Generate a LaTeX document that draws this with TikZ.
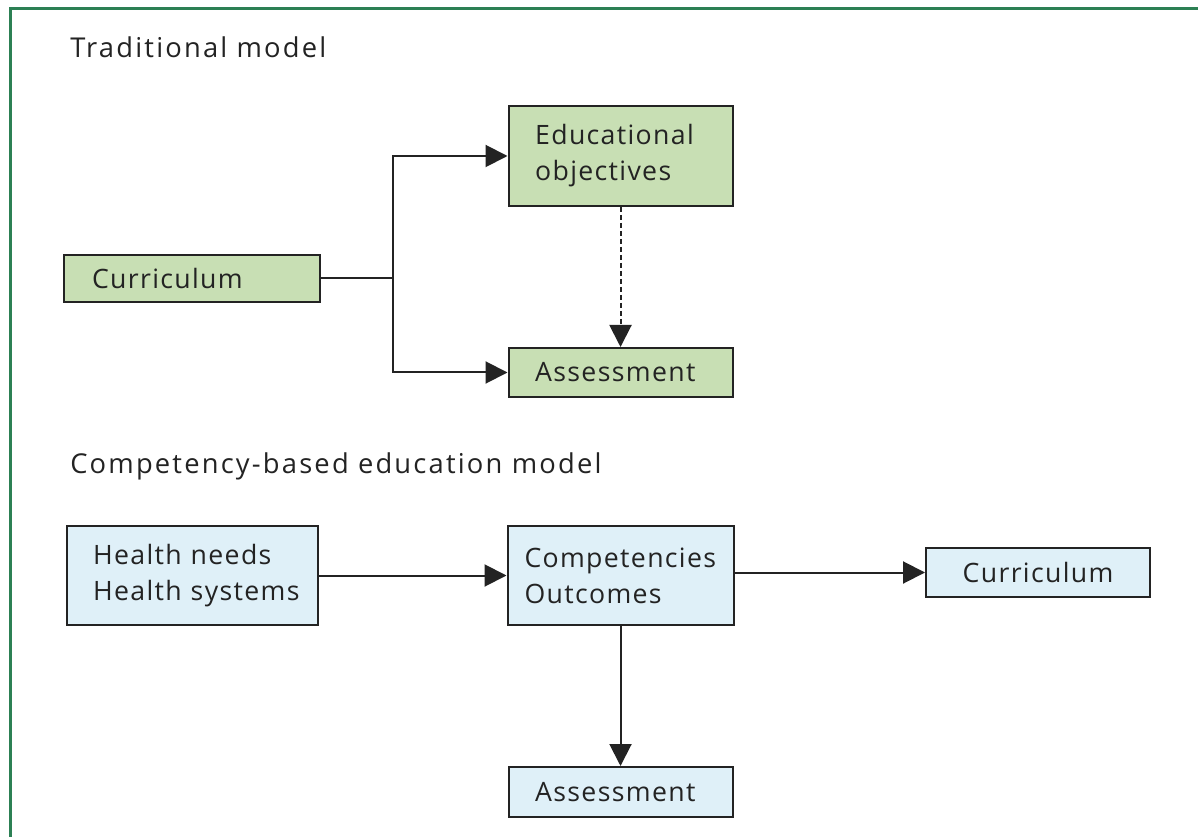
\documentclass[tikz,border=0pt]{standalone}
\usepackage{fontspec}
\setmainfont{Open Sans}
\usetikzlibrary{arrows.meta}
\definecolor{framegreen}{RGB}{44,128,84}
\definecolor{boxgreen}{RGB}{200,223,180}
\definecolor{boxblue}{RGB}{223,240,248}
\definecolor{ink}{RGB}{35,35,35}
\newfontfamily\boxfont[LetterSpace=5]{Open Sans}
\newfontfamily\titlefont[LetterSpace=8]{Open Sans}
\hbadness=10000 \hfuzz=200pt
\tikzset{
  box/.style={draw=ink, line width=1.5pt, minimum height=#1, inner ysep=0pt, align=left, text=ink, font=\boxfont\fontsize{20}{27}\selectfont},
  gbox/.style={box=#1, fill=boxgreen},
  bbox/.style={box=#1, fill=boxblue},
  conn/.style={draw=ink, line width=1.5pt, -{Triangle[length=16.5pt,width=16.5pt]}},
  plain/.style={draw=ink, line width=1.5pt},
  title/.style={anchor=west, text=ink, inner sep=0pt, font=\titlefont\fontsize{20.5}{24}\selectfont}
}
\begin{document}
\begin{tikzpicture}[x=0.75pt,y=-0.75pt]
\useasboundingbox (0,0) rectangle (1198,837);
\fill[white] (0,0) rectangle (1198,837);
\draw[framegreen, line width=1.8pt] (10.5,837) |- (1198,8.5);

\node[title] (t1) at (70,47) {Traditional model};
\node[title] (t2) at (70,466) {Competency-based education model};

% traditional model
\node[gbox=75pt, text width=128pt, inner xsep=20pt] (edu) at (620.5,156) {\mbox{Educational}\\\mbox{objectives}};
\node[gbox=35.25pt, text width=150pt, inner xsep=21pt] (cur) at (192,278.5) {\mbox{Curriculum}};
\node[gbox=36.75pt, text width=128pt, inner xsep=20pt] (asm) at (620.5,372.5) {\mbox{Assessment}};
\coordinate (j) at (393,278.5);
\draw[plain] (cur.east) -- (j);
\draw[conn] (j) |- (edu.west);
\draw[conn] (j) |- (asm.west);
\draw[conn, dash pattern=on 4pt off 2pt] (edu.south) -- (asm.north);

% competency-based model
\node[bbox=74.25pt, text width=149pt, inner xsep=19.5pt] (hn) at (192.5,575.5) {\mbox{Health needs}\\\mbox{Health systems}};
\node[bbox=74.25pt, text width=144pt, inner xsep=12.75pt] (co) at (620.5,575.5) {\mbox{Competencies}\\\mbox{Outcomes}};
\node[bbox=36.75pt, text width=168pt, inner xsep=0pt, align=center] (cur2) at (1038,572.5) {\mbox{Curriculum}};
\node[bbox=37.5pt, text width=128pt, inner xsep=20pt] (asm2) at (620.5,792) {\mbox{Assessment}};
\draw[conn] (hn.east) -- (hn.east -| co.west);
\draw[conn] (co.east |- cur2.west) -- (cur2.west);
\draw[conn] (co.south) -- (asm2.north);
\end{tikzpicture}
\end{document}
